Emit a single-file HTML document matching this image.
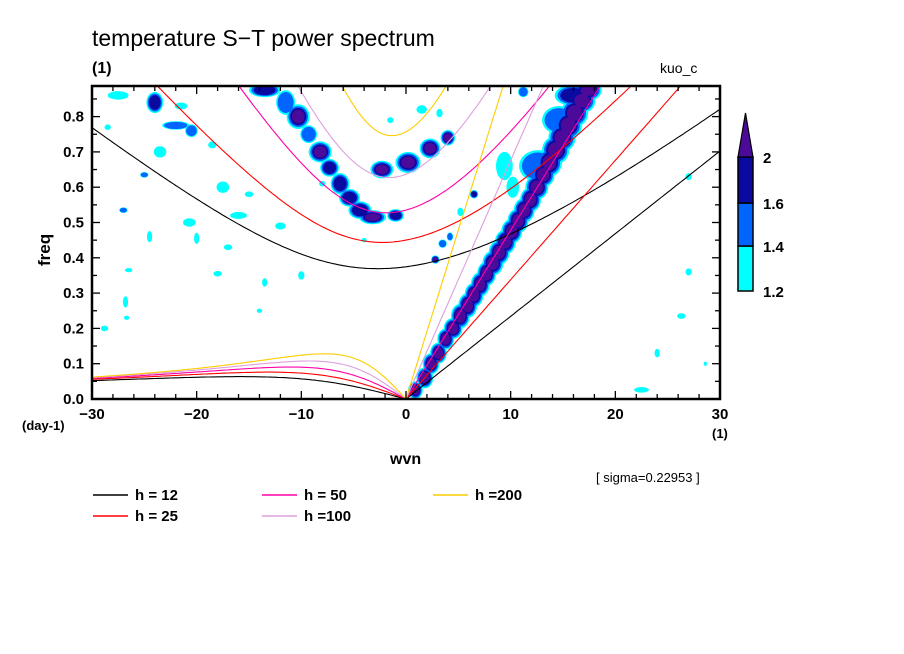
<!DOCTYPE html>
<html><head><meta charset="utf-8"><style>
html,body{margin:0;padding:0;background:#fff;width:904px;height:654px;overflow:hidden}
svg text{font-family:"Liberation Sans",sans-serif;fill:#000}
</style></head><body>
<svg id="chart" width="904" height="654" viewBox="0 0 904 654" xmlns="http://www.w3.org/2000/svg">
<defs><clipPath id="pc"><rect x="92" y="86" width="628" height="313"/></clipPath></defs>
<text x="92" y="46" font-size="23">temperature S−T power spectrum</text>
<text x="92" y="73" font-size="16" font-weight="bold">(1)</text>
<text x="660" y="73" font-size="14">kuo_c</text>
<g id="blobs" clip-path="url(#pc)"></g>
<g id="curves" clip-path="url(#pc)"></g>
<rect x="92" y="86" width="628" height="313" fill="none" stroke="#000" stroke-width="2.5"/>
<g id="axes"></g>
<text x="30" y="250" font-size="17" font-weight="bold" transform="rotate(-90 48 248)">freq</text>
<text x="390" y="464" font-size="16" font-weight="bold">wvn</text>
<text x="22" y="430" font-size="13" font-weight="bold">(day-1)</text>
<text x="712" y="438" font-size="13" font-weight="bold">(1)</text>
<text x="596" y="482" font-size="13">[ sigma=0.22953 ]</text>
<g id="colorbar"></g>
<g id="legend"></g>
</svg>
<script>
const NS="http://www.w3.org/2000/svg";
// ---- data ----
const depths=[12,25,50,100,200];
const depthColors=["#000000","#ff0000","#ff00a8","#dda0dd","#ffcc00"];
const legendLabels=["h = 12","h = 25","h = 50","h =100","h =200"];
const xTicks=[-30,-20,-10,0,10,20,30];
const yTicks=[0.0,0.1,0.2,0.3,0.4,0.5,0.6,0.7,0.8];
const levels=[1.2,1.4,1.6,2];
const levelColors=["#00ffff","#0064ff","#0a0aa0","#4b0a9a"];
// blobs: [wavenumber, freq, half-width (wvn), half-height (freq), max level index 1..4]
const kelvinRidge=[[0.9,0.025,0.7,0.025,4],[1.8,0.06,0.8,0.03,4],[2.4,0.1,0.8,0.03,4],[3.1,0.13,0.8,0.03,4],[3.8,0.17,0.8,0.03,4],[4.5,0.2,0.9,0.03,4],[5.2,0.235,0.9,0.035,4],[5.9,0.265,0.9,0.035,4],[6.5,0.295,0.9,0.035,4],[7.1,0.325,0.9,0.035,4],[7.7,0.355,0.9,0.035,4],[8.3,0.385,1.0,0.035,4],[8.9,0.415,1.0,0.035,4],[9.5,0.445,1.0,0.035,4],[10.1,0.475,1.0,0.035,4],[10.7,0.505,1.0,0.035,4],[11.3,0.535,1.0,0.035,4],[11.9,0.565,1.0,0.035,4],[12.5,0.6,1.1,0.035,4],[13.1,0.635,1.1,0.035,4],[13.7,0.67,1.2,0.04,4],[14.3,0.705,1.3,0.04,4],[14.9,0.74,1.3,0.04,4],[15.5,0.775,1.3,0.04,4],[16.1,0.81,1.3,0.04,4],[16.8,0.845,1.3,0.035,4],[17.4,0.875,1.3,0.03,4],[12.6,0.66,1.8,0.045,2],[14.6,0.79,1.6,0.04,2],[16,0.86,1.8,0.03,3]];
const igRidge=[[-13.5,0.875,1.5,0.02,3],[-11.5,0.84,0.9,0.035,2],[-10.3,0.8,1.1,0.035,4],[-9.3,0.75,0.8,0.025,2],[-8.2,0.70,1.1,0.03,4],[-7.3,0.655,0.9,0.025,3],[-6.3,0.61,0.9,0.03,3],[-5.4,0.57,1.0,0.025,3],[-4.4,0.535,1.1,0.025,3],[-3.2,0.515,1.3,0.02,4],[-1.0,0.52,0.8,0.018,3],[-2.3,0.65,1.1,0.025,4],[0.2,0.67,1.2,0.03,4],[2.3,0.71,1.0,0.028,4],[4.0,0.74,0.7,0.022,4]];
const scattered=[[-27.5,0.86,1.0,0.012,1],[-24,0.84,0.8,0.03,3],[-22,0.775,1.3,0.012,2],[-20.5,0.76,0.6,0.018,2],[-21.5,0.83,0.6,0.01,1],[-23.5,0.70,0.6,0.016,1],[-25,0.635,0.4,0.008,2],[-27,0.535,0.4,0.008,2],[-24.5,0.46,0.25,0.016,1],[-28.5,0.77,0.3,0.008,1],[-18.5,0.72,0.4,0.01,1],[-17.5,0.60,0.6,0.016,1],[-20.7,0.50,0.6,0.012,1],[-20,0.455,0.25,0.016,1],[-26.5,0.365,0.35,0.006,1],[-26.8,0.275,0.25,0.016,1],[-26.7,0.23,0.25,0.006,1],[-28.8,0.2,0.35,0.008,1],[-16,0.52,0.8,0.01,1],[-15,0.58,0.4,0.008,1],[-12,0.49,0.5,0.01,1],[-17,0.43,0.4,0.008,1],[-18,0.355,0.4,0.008,1],[-13.5,0.33,0.25,0.012,1],[-10,0.35,0.3,0.012,1],[-14,0.25,0.25,0.006,1],[3.5,0.44,0.4,0.012,2],[2.8,0.395,0.4,0.012,4],[4.2,0.46,0.3,0.012,2],[5.2,0.53,0.3,0.012,1],[3.2,0.81,0.3,0.012,1],[-1.5,0.79,0.3,0.008,1],[1.5,0.82,0.5,0.012,1],[6.5,0.58,0.4,0.012,3],[9.4,0.66,0.8,0.04,1],[10.2,0.6,0.6,0.03,1],[11.2,0.87,0.5,0.015,2],[27,0.63,0.3,0.01,1],[27,0.36,0.3,0.01,1],[26.3,0.235,0.4,0.008,1],[24,0.13,0.25,0.012,1],[22.5,0.026,0.7,0.008,1],[28.6,0.10,0.15,0.006,1],[-8,0.61,0.3,0.008,1],[-4,0.45,0.25,0.006,1]];
// ---- scales ----
const X0=92,X1=720,Y0=399,YTOP=86,FMAX=(399-86)/353;
const xs=k=>X0+(k+30)/60*(X1-X0);
const ys=f=>Y0-f/FMAX*(Y0-YTOP);
const pxK=(X1-X0)/60, pxF=(Y0-YTOP)/FMAX;
function mk(tag,attrs,parent){const e=document.createElementNS(NS,tag);for(const a in attrs)e.setAttribute(a,attrs[a]);parent.appendChild(e);return e;}
// ---- blobs ----
const bg=document.getElementById('blobs');
const allBlobs=kelvinRidge.concat(igRidge,scattered);
for(let lv=1;lv<=4;lv++){
  for(const b of allBlobs){
    if(b[4]<lv)continue;
    const s=1-(lv-1)*0.15;
    const e=mk('ellipse',{cx:xs(b[0]),cy:ys(b[1]),rx:b[2]*pxK*s,ry:b[3]*pxF*s,fill:levelColors[lv-1]},bg);
    
    
  }
}
// ---- dispersion curves ----
const g=9.81,a=6.371e6,beta=2.28e-11,conv=86400/(2*Math.PI);
function roots(k,c){const kk=k/a;const p=-(c*c*kk*kk+3*beta*c),q=-beta*kk*c*c;
  const m=2*Math.sqrt(-p/3);const th=Math.acos(Math.max(-1,Math.min(1,3*q/(2*p)*Math.sqrt(-3/p))))/3;
  const r=[0,1,2].map(j=>m*Math.cos(th-2*Math.PI*j/3));r.sort((x,y)=>x-y);return r;}
const cg=document.getElementById('curves');
depths.forEach((h,i)=>{
  const c=Math.sqrt(g*h);
  let kel=[],ig=[],er=[];
  for(let k=-30;k<=30.001;k+=0.25){
    const r=roots(k,c);
    ig.push([xs(k),ys(r[2]*conv)]);
    if(k<=0)er.push([xs(k),ys(Math.max(0,r[1])*conv)]);
    if(k>=0)kel.push([xs(k),ys(k/a*c*conv)]);
  }
  [['kelvin',kel],['ig1',ig],['er1',er]].forEach(([nm,pts])=>{
    const pl=mk('polyline',{points:pts.map(p=>p[0].toFixed(1)+','+p[1].toFixed(1)).join(' '),fill:'none',stroke:depthColors[i],'stroke-width':1.1},cg);
    
    
  });
});
// ---- axes ----
const ax=document.getElementById('axes');
for(let k=-30;k<=30;k+=2){const maj=k%10===0,L=maj?8:5;
  mk('line',{x1:xs(k),x2:xs(k),y1:Y0,y2:Y0-L,stroke:'#000','stroke-width':1.3},ax);
  mk('line',{x1:xs(k),x2:xs(k),y1:YTOP,y2:YTOP+L,stroke:'#000','stroke-width':1.3},ax);}
for(let j=0;j<=17;j++){const f=j*0.05,L=j%2===0?8:5;
  mk('line',{x1:X0,x2:X0+L,y1:ys(f),y2:ys(f),stroke:'#000','stroke-width':1.3},ax);
  mk('line',{x1:X1,x2:X1-L,y1:ys(f),y2:ys(f),stroke:'#000','stroke-width':1.3},ax);}
xTicks.forEach(k=>{const t=mk('text',{x:xs(k),y:419,'font-size':15,'font-weight':'bold','text-anchor':'middle'},ax);t.textContent=k<0?'−'+(-k):String(k);
  
  });
yTicks.forEach(f=>{const t=mk('text',{x:84,y:ys(f)+5,'font-size':15,'font-weight':'bold','text-anchor':'end'},ax);t.textContent=f.toFixed(1);
  
  });
// ---- colorbar ----
const cb=document.getElementById('colorbar');
const cbX=738,cbW=15,cbY=[291,246,203,157];
for(let i=0;i<3;i++){const r=mk('rect',{x:cbX,y:cbY[i+1],width:cbW,height:cbY[i]-cbY[i+1],fill:levelColors[i],stroke:'#000','stroke-width':1.5},cb);
  
  }
const tri=mk('polygon',{points:`${cbX},${cbY[3]} ${cbX+cbW},${cbY[3]} ${cbX+cbW/2},113`,fill:levelColors[3],stroke:'#000','stroke-width':1.2},cb);


levels.forEach((v,i)=>{const t=mk('text',{x:763,y:cbY[i]+6,'font-size':15,'font-weight':'bold'},cb);t.textContent=String(v);
  
  });
// ---- legend ----
const lg=document.getElementById('legend');
const lpos=[[93,495],[93,516],[262,495],[262,516],[433,495]];
legendLabels.forEach((lab,i)=>{const [x,y]=lpos[i];
  const ln=mk('line',{x1:x,x2:x+35,y1:y,y2:y,stroke:depthColors[i],'stroke-width':1.5},lg);
  
  
  const t=mk('text',{x:x+42,y:y+5,'font-size':15,'font-weight':'bold'},lg);t.textContent=lab;
  
  });
</script>
</body></html>
